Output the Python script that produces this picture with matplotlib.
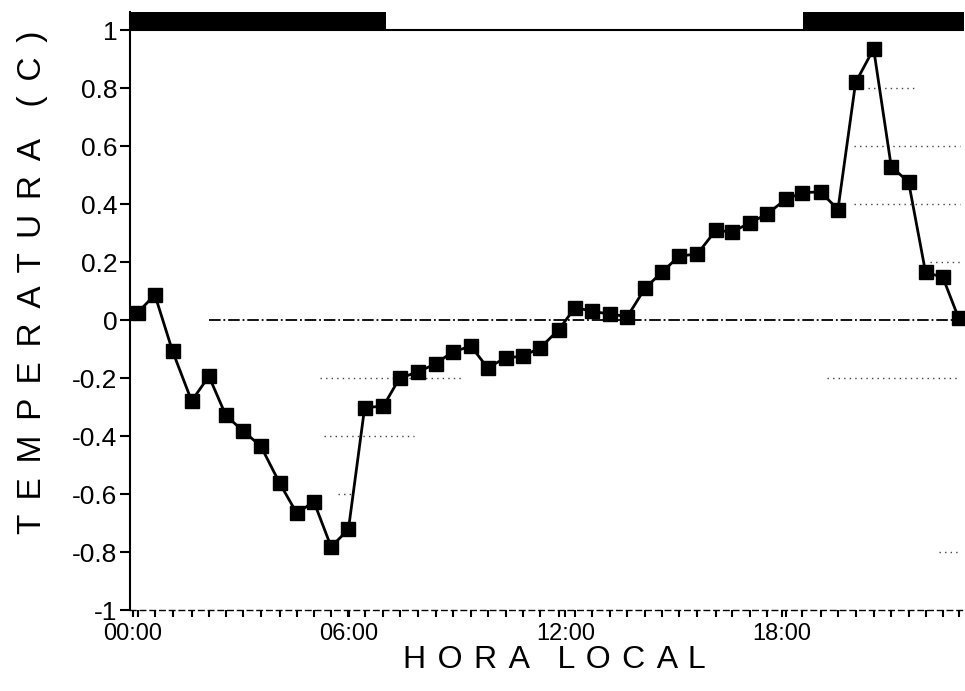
import matplotlib
matplotlib.use("Agg")
import matplotlib.pyplot as plt
from matplotlib.patches import Rectangle

# ---- data ----
hours = [0.13, 0.61, 1.10, 1.63, 2.11, 2.58, 3.06, 3.55, 4.07, 4.55, 5.02, 5.50,
         5.98, 6.43, 6.95, 7.40, 7.90, 8.41, 8.87, 9.38, 9.84, 10.35, 10.81, 11.30,
         11.81, 12.27, 12.75, 13.24, 13.72, 14.21, 14.67, 15.15, 15.66, 16.17, 16.63,
         17.12, 17.60, 18.11, 18.57, 19.08, 19.56, 20.05, 20.55, 21.04, 21.52, 21.99,
         22.47, 22.91]
temperature = [0.025, 0.087, -0.107, -0.279, -0.194, -0.329, -0.383, -0.435, -0.562,
               -0.667, -0.626, -0.782, -0.722, -0.302, -0.297, -0.20, -0.18, -0.15,
               -0.11, -0.09, -0.165, -0.13, -0.125, -0.096, -0.034, 0.043, 0.03, 0.02,
               0.012, 0.11, 0.164, 0.22, 0.228, 0.309, 0.304, 0.335, 0.366, 0.416,
               0.439, 0.442, 0.381, 0.819, 0.935, 0.528, 0.476, 0.165, 0.147, 0.006]
night_periods = [(-0.1, 7.03), (18.6, 23.2)]
xtick_pos = [0, 6, 12, 18]
xtick_labels = ["00:00", "06:00", "12:00", "18:00"]
ytick_pos = [-1, -0.8, -0.6, -0.4, -0.2, 0, 0.2, 0.4, 0.6, 0.8, 1]
ytick_labels = ["-1", "-0.8", "-0.6", "-0.4", "-0.2", "0", "0.2", "0.4", "0.6", "0.8", "1"]
xlabel_text = "HORA LOCAL"
ylabel_text = "TEMPERATURA (C)"

# faint dotted grid fragments visible in the scan (y, x_start, x_end)
grid_fragments = [(-0.2, 5.2, 9.1), (-0.2, 19.25, 22.95), (-0.4, 5.3, 7.8),
                  (-0.6, 5.7, 6.1), (-0.8, 22.35, 22.95), (0.2, 22.1, 22.95),
                  (0.4, 20.0, 22.95), (0.6, 20.0, 22.95), (0.8, 20.4, 21.7)]

plt.rcParams['font.family'] = ['Liberation Sans', 'DejaVu Sans']


def spaced(s, extra):
    # letter-spaced text: words split, letters separated by a space + fine space
    gap = " " + extra
    words = [gap.join(list(w)) for w in s.split(" ")]
    return (gap + "  ").join(words)


fig = plt.figure(figsize=(9.65, 6.91), dpi=100)
ax = fig.add_axes([0.1347, 0.1172, 0.8640, 0.8654])

xmin, xmax = -0.08, 23.05
ax.set_xlim(xmin, xmax)
ax.set_ylim(-1, 1.062)

# day/night bar at the top
for a, b in night_periods:
    ax.add_patch(Rectangle((a, 1.0), b - a, 0.07, facecolor='black',
                           edgecolor='none', zorder=1, clip_on=True))
ax.axhline(1.0, color='black', lw=1.5, zorder=1)

# grid fragments and zero line
for yv, x0, x1 in grid_fragments:
    ax.hlines(yv, x0, x1, colors='#444444', linestyles=(0, (1, 3)), lw=1.0, zorder=0)
ax.hlines(0, 2.1, 22.95, colors='black', linestyles='-.', lw=1.3, zorder=0)

ax.plot(hours, temperature, color='black', lw=2.0, marker='s', ms=10,
        markerfacecolor='black', markeredgecolor='black', zorder=3, clip_on=False)

ax.spines['top'].set_visible(False)
ax.spines['right'].set_visible(False)
ax.spines['left'].set_linewidth(1.5)
ax.spines['bottom'].set_linewidth(1.0)
ax.spines['bottom'].set_linestyle((0, (4, 3)))

ax.set_xticks(xtick_pos)
ax.set_xticklabels(xtick_labels, fontsize=17)
ax.set_xticks(hours, minor=True)
ax.set_yticks(ytick_pos)
ax.set_yticklabels(ytick_labels, fontsize=19)
ax.tick_params(axis='y', direction='out', length=7, width=1.5, pad=2)
ax.tick_params(axis='x', which='both', direction='out', length=5, width=1.5, pad=4)

ax.set_xlabel(spaced(xlabel_text, "\u200a"), fontsize=23,
              family=['Liberation Sans', 'DejaVu Sans'])
ax.xaxis.set_label_coords((555 - 130) / 835, (610 - 660) / 598)
ax.xaxis.label.set_va('center')
ax.set_ylabel(spaced(ylabel_text, "\u2006"), fontsize=24,
              family=['Liberation Sans', 'DejaVu Sans'])
ax.yaxis.set_label_coords((32 - 130) / 835, (610 - 282) / 598)
ax.yaxis.label.set_va('center')

fig.savefig("out.png", dpi=100)
